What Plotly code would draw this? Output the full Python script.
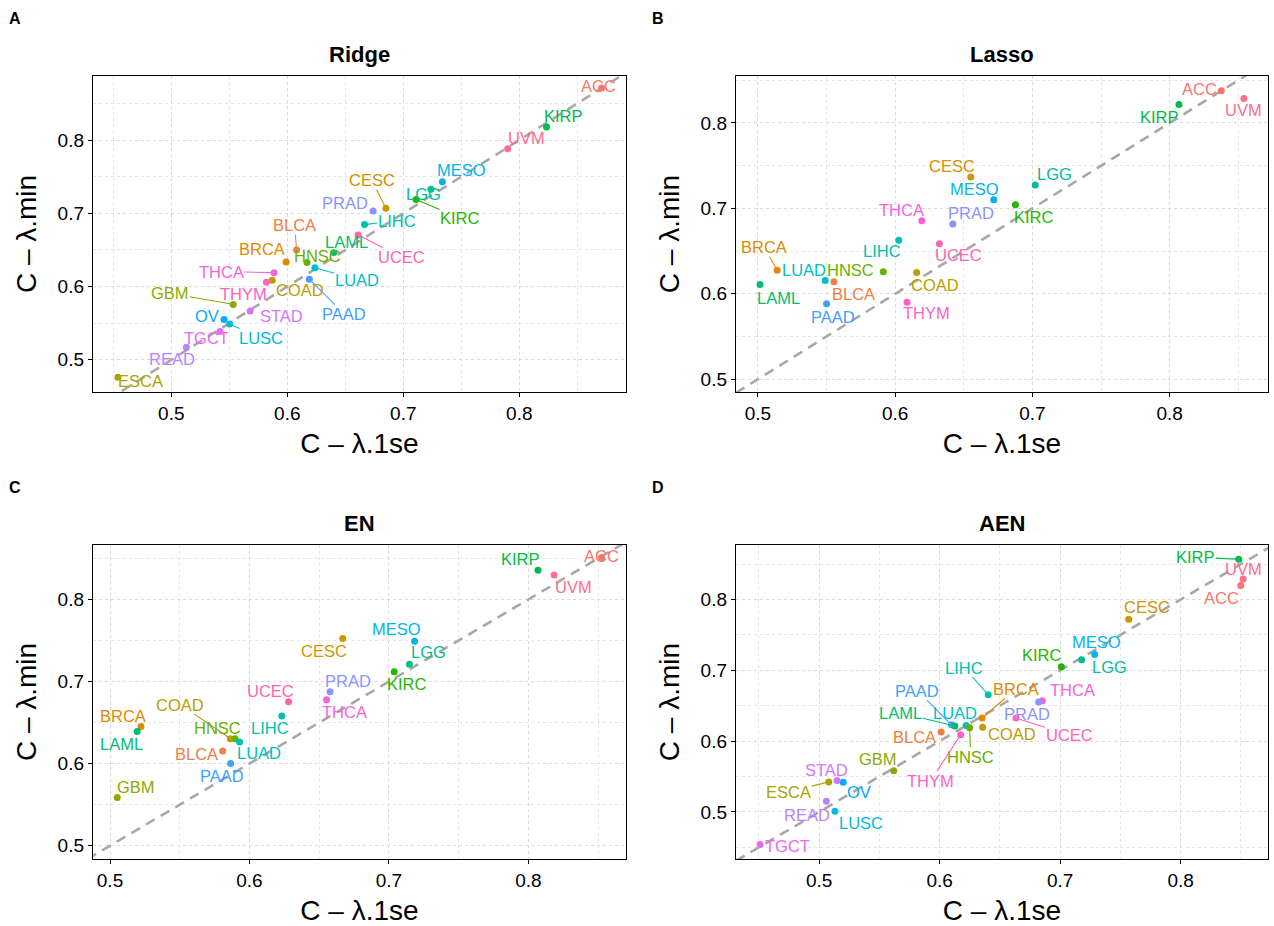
import math
import plotly.graph_objects as go

# ---------------- data ----------------
CANCERS = ["ACC", "BLCA", "BRCA", "CESC", "COAD", "ESCA", "GBM", "HNSC", "KIRC", "KIRP",
           "LAML", "LGG", "LIHC", "LUAD", "LUSC", "MESO", "OV", "PAAD", "PRAD", "READ",
           "STAD", "TGCT", "THCA", "THYM", "UCEC", "UVM"]

ridge_names = ["ACC", "KIRP", "UVM", "MESO", "LGG", "KIRC", "CESC", "PRAD", "LIHC", "UCEC",
               "LAML", "BLCA", "BRCA", "HNSC", "LUAD", "PAAD", "THCA", "COAD", "THYM", "GBM",
               "STAD", "OV", "LUSC", "TGCT", "READ", "ESCA"]
ridge_x = [0.871, 0.8235, 0.790, 0.7337, 0.7238, 0.711, 0.685, 0.674, 0.6666, 0.661,
           0.640, 0.608, 0.599, 0.617, 0.6238, 0.619, 0.5886, 0.587, 0.582, 0.5534,
           0.568, 0.5455, 0.5504, 0.542, 0.513, 0.454]
ridge_y = [0.871, 0.818, 0.788, 0.743, 0.733, 0.719, 0.707, 0.703, 0.6846, 0.6705,
           0.6463, 0.650, 0.6336, 0.633, 0.6258, 0.610, 0.619, 0.6085, 0.606, 0.5756,
           0.5665, 0.555, 0.5487, 0.5387, 0.517, 0.4762]

lasso_names = ["ACC", "UVM", "KIRP", "CESC", "LGG", "MESO", "KIRC", "THCA", "PRAD", "LIHC",
               "UCEC", "BRCA", "HNSC", "COAD", "LUAD", "BLCA", "LAML", "PAAD", "THYM"]
lasso_x = [0.8376, 0.854, 0.8067, 0.655, 0.702, 0.6718, 0.6876, 0.6194, 0.642, 0.6026,
           0.6322, 0.514, 0.5913, 0.6156, 0.549, 0.5554, 0.5015, 0.550, 0.6086]
lasso_y = [0.8377, 0.8287, 0.8216, 0.7368, 0.7274, 0.710, 0.7042, 0.6854, 0.6818, 0.6626,
           0.6587, 0.6276, 0.6257, 0.6249, 0.6155, 0.614, 0.6108, 0.5884, 0.590]

en_names = ["ACC", "KIRP", "UVM", "CESC", "MESO", "LGG", "KIRC", "PRAD", "THCA", "UCEC",
            "LIHC", "BRCA", "LAML", "COAD", "HNSC", "LUAD", "BLCA", "PAAD", "GBM"]
en_x = [0.8525, 0.8069, 0.8185, 0.6669, 0.7184, 0.7147, 0.7038, 0.6578, 0.6553, 0.628,
        0.6232, 0.5222, 0.5195, 0.5863, 0.5897, 0.5929, 0.5808, 0.5865, 0.5052]
en_y = [0.851, 0.8355, 0.8298, 0.7523, 0.749, 0.7209, 0.712, 0.6875, 0.6777, 0.6753,
        0.6581, 0.6451, 0.639, 0.6304, 0.6304, 0.6263, 0.6153, 0.600, 0.5587]

aen_names = ["KIRP", "UVM", "ACC", "CESC", "MESO", "LGG", "KIRC", "LIHC", "THCA", "PRAD",
             "UCEC", "BRCA", "COAD", "PAAD", "LAML", "LUAD", "HNSC", "BLCA", "THYM", "GBM",
             "ESCA", "STAD", "OV", "READ", "LUSC", "TGCT"]
aen_x = [0.8482, 0.8519, 0.8499, 0.7569, 0.7287, 0.7178, 0.701, 0.6403, 0.6853, 0.6822,
         0.6634, 0.6352, 0.6357, 0.6098, 0.6126, 0.622, 0.6249, 0.6012, 0.6175, 0.5619,
         0.508, 0.5148, 0.520, 0.506, 0.5131, 0.451]
aen_y = [0.8569, 0.8291, 0.8197, 0.7723, 0.7224, 0.7149, 0.705, 0.6655, 0.657, 0.6552,
         0.6326, 0.6326, 0.6195, 0.6232, 0.6213, 0.6222, 0.619, 0.6129, 0.6091, 0.5583,
         0.5424, 0.5442, 0.5419, 0.5151, 0.501, 0.454]

PANEL_TITLES = ["Ridge", "Lasso", "EN", "AEN"]
PANEL_TAGS = ["A", "B", "C", "D"]
X_TITLE = "C – λ.1se"
Y_TITLE = "C – λ.min"

# ---------------- layout / style ----------------
W, H = 1274, 926
FONT = "Liberation Sans, Arial, sans-serif"

# plot-area pixel boxes (left, right, top, bottom)
BOXES = [(93, 626, 76, 392), (736, 1268, 76, 392), (93, 626, 545, 859), (736, 1268, 545, 859)]
XRANGES = [(0.4325, 0.892), (0.484, 0.8716), (0.4878, 0.870), (0.431, 0.8725)]
YRANGES = [(0.456, 0.8875), (0.485, 0.855), (0.4838, 0.8663), (0.4335, 0.877)]

# label offsets in pixels (dx, dy; dy positive = down) and whether a segment is drawn
OFFS = [
    {"ACC": (-3, -2, 0), "KIRP": (17, -11, 0), "UVM": (19, -11, 0), "MESO": (19, -12, 0),
     "LGG": (-7, 5, 0), "KIRC": (44, 19, 1), "CESC": (-14, -28, 1), "PRAD": (-28, -8, 0),
     "LIHC": (32, -4, 1), "UCEC": (43, 22, 1), "LAML": (13, -11, 0), "BLCA": (-2, -25, 1),
     "BRCA": (-24, -13, 0), "HNSC": (10, -6, 0), "LUAD": (42, 12, 1), "PAAD": (35, 35, 1),
     "THCA": (-53, -1, 1), "COAD": (28, 10, 0), "THYM": (-23, 12, 0), "GBM": (-63, -11, 1),
     "STAD": (31, 5, 0), "OV": (-17, -4, 0), "LUSC": (31, 14, 1), "TGCT": (-14, 7, 0),
     "READ": (-14, 12, 0), "ESCA": (23, 4, 0)},
    {"ACC": (-22, -2, 0), "UVM": (0, 12, 0), "KIRP": (-19, 12, 0), "CESC": (-19, -11, 0),
     "LGG": (19, -11, 0), "MESO": (-19, -11, 0), "KIRC": (19, 12, 0), "THCA": (-20, -11, 0),
     "PRAD": (18, -11, 0), "LIHC": (-17, 11, 0), "UCEC": (19, 11, 0), "BRCA": (-13, -23, 1),
     "HNSC": (-33, -2, 0), "COAD": (18, 12, 0), "LUAD": (-21, -11, 0), "BLCA": (19, 12, 0),
     "LAML": (18, 13, 0), "PAAD": (6, 13, 0), "THYM": (19, 11, 0)},
    {"ACC": (0, -2, 0), "KIRP": (-18, -11, 0), "UVM": (19, 12, 0), "CESC": (-19, 12, 0),
     "MESO": (-18, -12, 0), "LGG": (19, -12, 0), "KIRC": (13, 12, 0), "PRAD": (18, -11, 0),
     "THCA": (18, 12, 0), "UCEC": (-18, -11, 0), "LIHC": (-12, 12, 0), "BRCA": (-18, -11, 0),
     "LAML": (-16, 12, 0), "COAD": (-50, -34, 1), "HNSC": (-18, -11, 0), "LUAD": (19, 11, 0),
     "BLCA": (-26, 3, 0), "PAAD": (-9, 12, 0), "GBM": (19, -11, 0)},
    {"KIRP": (-43, -2, 1), "UVM": (0, -10, 0), "ACC": (-19, 12, 0), "CESC": (18, -12, 0),
     "MESO": (2, -12, 0), "LGG": (28, 7, 0), "KIRC": (-19, -12, 0), "LIHC": (-24, -27, 1),
     "BRCA": (34, -29, 1), "THCA": (30, -11, 0), "PRAD": (-12, 12, 0), "UCEC": (53, 17, 1),
     "COAD": (29, 7, 0), "PAAD": (-34, -34, 1), "LAML": (-54, -13, 1), "LUAD": (-11, -12, 0),
     "HNSC": (1, 29, 1), "BLCA": (-27, 5, 0), "THYM": (-30, 46, 1), "GBM": (-16, -12, 0),
     "STAD": (-10, -11, 0), "ESCA": (-40, 10, 1), "OV": (16, 10, 0), "READ": (-19, 14, 0),
     "LUSC": (26, 12, 0), "TGCT": (27, 2, 0)},
]


def hcl_hex(h, c=100.0, l=65.0):
    """R / ggplot2 hcl() colour conversion (polar LUV -> sRGB)."""
    Xn, Yn, Zn = 95.047, 100.0, 108.883
    hr = math.radians(h)
    U, V = c * math.cos(hr), c * math.sin(hr)
    Y = Yn * (((l + 16) / 116) ** 3 if l > 7.999592 else l / 903.3)
    t = Xn + Yn + Zn
    x, y = Xn / t, Yn / t
    uN = 2 * x / (6 * y - x + 1.5)
    vN = 4.5 * y / (6 * y - x + 1.5)
    u = U / (13 * l) + uN
    v = V / (13 * l) + vN
    X = 9.0 * Y * u / (4 * v)
    Z = -X / 3 - 5 * Y + 3 * Y / v

    def g(val):
        return 1.055 * val ** (1 / 2.4) - 0.055 if val > 0.00304 else 12.92 * val

    r = g((3.240479 * X - 1.537150 * Y - 0.498535 * Z) / Yn)
    gg = g((-0.969256 * X + 1.875992 * Y + 0.041556 * Z) / Yn)
    b = g((0.055648 * X - 0.204043 * Y + 1.057311 * Z) / Yn)
    cl = lambda q: max(0, min(255, int(round(q * 255))))
    return "#%02X%02X%02X" % (cl(r), cl(gg), cl(b))


n = len(CANCERS)
COLORS = {name: hcl_hex(15 + 360 * i / n) for i, name in enumerate(CANCERS)}

panels = [(ridge_names, ridge_x, ridge_y), (lasso_names, lasso_x, lasso_y),
          (en_names, en_x, en_y), (aen_names, aen_x, aen_y)]

fig = go.Figure()
annotations = []
layout_axes = {}

for p, (names, xs, ys) in enumerate(panels):
    sfx = "" if p == 0 else str(p + 1)
    xa, ya = "x" + sfx, "y" + sfx
    left, right, top, bottom = BOXES[p]
    xr, yr = XRANGES[p], YRANGES[p]

    # diagonal reference line y = x spanning the panel
    lo, hi = min(xr[0], yr[0]), max(xr[1], yr[1])
    fig.add_trace(go.Scatter(x=[lo, hi], y=[lo, hi], mode="lines", xaxis=xa, yaxis=ya,
                             line=dict(color="#A8A8A8", width=2.6, dash="10px,7px"),
                             hoverinfo="skip", showlegend=False))
    # points
    fig.add_trace(go.Scatter(x=xs, y=ys, mode="markers", xaxis=xa, yaxis=ya,
                             marker=dict(size=7, color=[COLORS[nm] for nm in names]),
                             text=names, showlegend=False, cliponaxis=False))
    # labels
    for nm, xv, yv in zip(names, xs, ys):
        dx, dy, seg = OFFS[p][nm]
        annotations.append(dict(
            x=xv, y=yv, xref=xa, yref=ya, text=nm, showarrow=True,
            ax=dx, ay=dy, arrowhead=0, arrowwidth=1.1, standoff=2,
            arrowcolor=COLORS[nm] if seg else "rgba(0,0,0,0)",
            font=dict(family=FONT, size=16.5, color=COLORS[nm]),
            xanchor="center", yanchor="middle", borderpad=0))

    axis_common = dict(showline=True, mirror=True, linecolor="black", linewidth=1.4,
                       ticks="outside", ticklen=4, tickwidth=1.1, tickcolor="black",
                       tickfont=dict(family=FONT, size=19, color="black"),
                       showgrid=True, gridcolor="#DADADA", gridwidth=1, griddash="3px,3px",
                       zeroline=False, dtick=0.1, tick0=0, tickformat=".1f",
                       automargin=False,
                       minor=dict(showgrid=True, gridcolor="#E6E6E6", griddash="3px,3px",
                                  dtick=0.05, tick0=0, ticklen=0),
                       title_font=dict(family=FONT, size=28, color="black"))
    layout_axes["xaxis" + sfx] = dict(axis_common, domain=[left / W, right / W], range=list(xr),
                                      anchor=ya, title=dict(text=X_TITLE, standoff=10))
    layout_axes["yaxis" + sfx] = dict(axis_common, domain=[1 - bottom / H, 1 - top / H], range=list(yr),
                                      anchor=xa, title=dict(text=Y_TITLE, standoff=12))

    # panel title and tag
    annotations.append(dict(x=(left + right) / 2 / W, y=1 - (top - 22) / H, xref="paper", yref="paper",
                            text="<b>%s</b>" % PANEL_TITLES[p], showarrow=False,
                            font=dict(family=FONT, size=22, color="black"),
                            xanchor="center", yanchor="middle"))
    annotations.append(dict(x=(left - 78) / W, y=1 - (top - 58) / H, xref="paper", yref="paper",
                            text="<b>%s</b>" % PANEL_TAGS[p], showarrow=False,
                            font=dict(family=FONT, size=16, color="black"),
                            xanchor="center", yanchor="middle"))

fig.update_layout(width=W, height=H, margin=dict(l=0, r=0, t=0, b=0, autoexpand=False),
                  paper_bgcolor="white", plot_bgcolor="white",
                  annotations=annotations, showlegend=False, **layout_axes)

fig.write_html("out.html", config={"displayModeBar": False},
               post_script="document.body.style.margin='0';document.body.style.padding='0';")
